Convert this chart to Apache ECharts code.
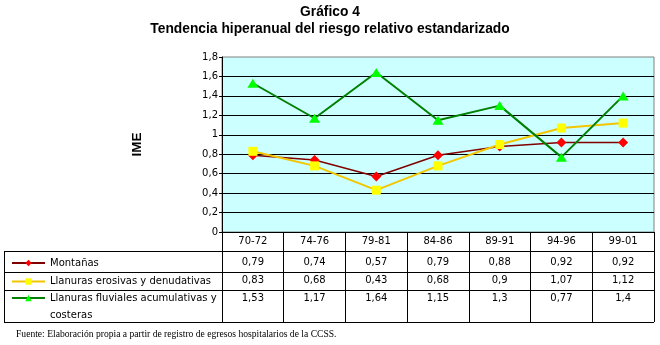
<!DOCTYPE html>
<html>
<head>
<meta charset="utf-8">
<script src="https://cdn.jsdelivr.net/npm/echarts@6/dist/echarts.min.js"></script>
<style>
html, body { margin: 0; padding: 0; background: #fff; }
#chart { width: 660px; height: 345px; }
</style>
</head>
<body>
<div id="chart"></div>
<script>
// datos
var periodos = ['70-72', '74-76', '79-81', '84-86', '89-91', '94-96', '99-01'];
var montanas = [0.79, 0.74, 0.57, 0.79, 0.88, 0.92, 0.92];
var erosivas = [0.83, 0.68, 0.43, 0.68, 0.9, 1.07, 1.12];
var fluviales = [1.53, 1.17, 1.64, 1.15, 1.3, 0.77, 1.4];
var nombres = ['Montañas', 'Llanuras erosivas y denudativas', 'Llanuras fluviales acumulativas y costeras'];

var fuenteTabla = 'DejaVu Sans';

function coma(v) {
    return String(v).replace('.', ',');
}

// cada fila de la tabla es un eje de categorias sin linea
function filaTabla(valores, offset) {
    return {
        type: 'category',
        position: 'bottom',
        offset: offset,
        data: valores.map(coma),
        axisLine: {show: false},
        axisTick: {show: false},
        splitLine: {show: false},
        axisLabel: {margin: 4, interval: 0, color: '#000', fontSize: 10, fontFamily: fuenteTabla}
    };
}

function leyenda(nombre, top, extra) {
    var l = {
        data: [nombre],
        left: 11,
        top: top,
        padding: 0,
        itemWidth: 33,
        itemHeight: 8,
        selectedMode: false,
        textStyle: {fontSize: 10, fontFamily: fuenteTabla, color: '#000'}
    };
    if (extra) {
        // linea vacia arriba para que el icono quede en la primera linea
        l.formatter = '\nLlanuras fluviales acumulativas y\ncosteras';
        l.textStyle.lineHeight = 17;
    }
    return l;
}

var chart = echarts.init(document.getElementById('chart'));

var option = {
    animation: false,
    title: [
        {
            text: 'Gráfico 4',
            left: 'center',
            top: 5,
            padding: 0,
            textStyle: {fontSize: 13.8, fontWeight: 'bold', fontFamily: 'Liberation Sans', color: '#000'}
        },
        {
            text: 'Tendencia hiperanual del riesgo relativo estandarizado',
            left: 'center',
            top: 22,
            padding: 0,
            textStyle: {fontSize: 13.8, fontWeight: 'bold', fontFamily: 'Liberation Sans', color: '#000'}
        }
    ],
    legend: [
        leyenda(nombres[0], 258),
        leyenda(nombres[1], 276.5),
        leyenda(nombres[2], 272.5, true)
    ],
    grid: {
        left: 222,
        right: 6,
        top: 57,
        bottom: 113,
        show: true,
        backgroundColor: '#ccffff',
        borderColor: '#808080',
        borderWidth: 1
    },
    xAxis: [
        {
            type: 'category',
            position: 'bottom',
            data: periodos,
            boundaryGap: true,
            axisLine: {lineStyle: {color: '#000', width: 1}},
            axisTick: {show: true, length: 90, lineStyle: {color: '#000'}},
            axisLabel: {margin: 4, interval: 0, color: '#000', fontSize: 10, fontFamily: fuenteTabla}
        },
        filaTabla(montanas, 21),
        filaTabla(erosivas, 39.5),
        filaTabla(fluviales, 57.5)
    ],
    yAxis: {
        type: 'value',
        min: 0,
        max: 1.8,
        interval: 0.2,
        name: 'IME',
        nameLocation: 'middle',
        nameGap: 78,
        nameTextStyle: {fontSize: 13.5, fontWeight: 'bold', fontFamily: 'Liberation Sans', color: '#000'},
        axisLine: {show: true, lineStyle: {color: '#000'}},
        axisTick: {show: true, length: 3, lineStyle: {color: '#000'}},
        axisLabel: {
            margin: 4,
            color: '#000',
            fontSize: 10,
            fontFamily: fuenteTabla,
            formatter: function (v) { return coma(Math.round(v * 10) / 10); }
        },
        splitLine: {show: true, showMaxLine: false, lineStyle: {color: '#000', width: 1}}
    },
    series: [
        {
            name: nombres[0],
            type: 'line',
            data: montanas,
            symbol: 'diamond',
            symbolSize: 10,
            itemStyle: {color: '#ff0000'},
            lineStyle: {color: '#800000', width: 1.5}
        },
        {
            name: nombres[1],
            type: 'line',
            data: erosivas,
            symbol: 'rect',
            symbolSize: 9,
            itemStyle: {color: '#ffff00'},
            lineStyle: {color: '#f2c600', width: 2}
        },
        {
            name: nombres[2],
            type: 'line',
            data: fluviales,
            symbol: 'triangle',
            symbolSize: [11, 9],
            itemStyle: {color: '#00ff00'},
            lineStyle: {color: '#008000', width: 2}
        }
    ],
    graphic: [
        // bordes horizontales de la tabla
        {type: 'line', shape: {x1: 4, y1: 251.5, x2: 654, y2: 251.5}, style: {stroke: '#000', lineWidth: 1}},
        {type: 'line', shape: {x1: 4, y1: 272.5, x2: 654, y2: 272.5}, style: {stroke: '#000', lineWidth: 1}},
        {type: 'line', shape: {x1: 4, y1: 290.5, x2: 654, y2: 290.5}, style: {stroke: '#000', lineWidth: 1}},
        {type: 'line', shape: {x1: 4, y1: 322.5, x2: 654, y2: 322.5}, style: {stroke: '#000', lineWidth: 1}},
        {type: 'line', shape: {x1: 4.5, y1: 251, x2: 4.5, y2: 323}, style: {stroke: '#000', lineWidth: 1}},
        {
            type: 'text',
            left: 16,
            top: 329,
            style: {
                text: 'Fuente: Elaboración propia a partir de registro de egresos hospitalarios de la CCSS.',
                font: '9.6px "Liberation Serif"',
                fill: '#000'
            }
        }
    ]
};

chart.setOption(option);
</script>
</body>
</html>
